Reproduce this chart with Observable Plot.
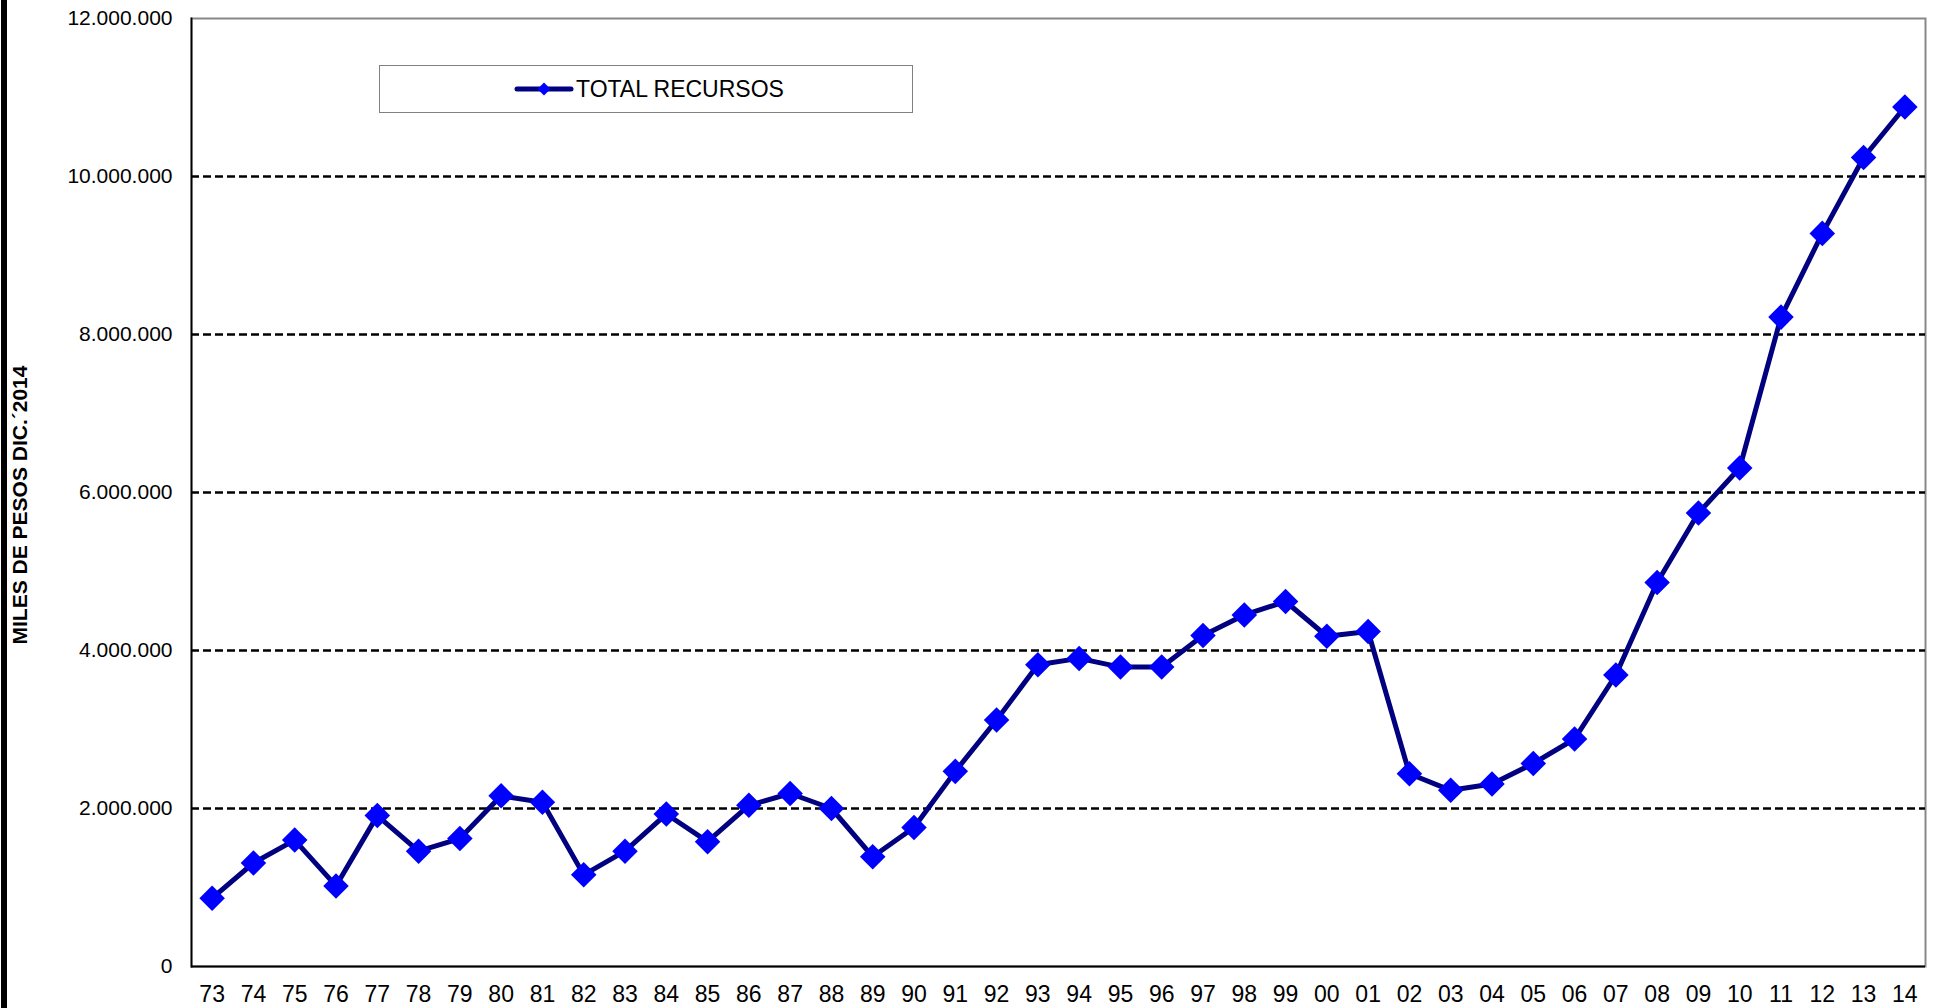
<!DOCTYPE html>
<html>
<head>
<meta charset="utf-8">
<script src="https://cdn.jsdelivr.net/npm/d3@7"></script>
<script src="https://cdn.jsdelivr.net/npm/@observablehq/plot@0.6"></script>
<style>
  html, body { margin: 0; padding: 0; background: #fff; }
  body { width: 1934px; height: 1008px; overflow: hidden; font-family: "Liberation Sans", Arial, sans-serif; }
  #wrap { position: relative; width: 1934px; height: 1008px; }
  #bar { position: absolute; left: 1px; top: 0; width: 6px; height: 1008px; background: #000; }
  #ytitle { position: absolute; left: 20px; top: 505px; transform: translate(-50%, -50%) rotate(-90deg);
            font-weight: bold; font-size: 21px; white-space: nowrap; color: #000; }
  #legend { position: absolute; left: 379px; top: 65px; width: 532px; height: 46px; border: 1px solid #808080;
            background: #fff; box-sizing: content-box; }
  #legend svg { position: absolute; left: 134px; top: 10px; }
  #legend span { position: absolute; left: 196px; top: 9px; font-size: 23px; line-height: 28px; color: #000; white-space: nowrap; }
</style>
</head>
<body>
<div id="wrap">
  <div id="chart"></div>
  <div id="bar"></div>
  <div id="ytitle"></div>
  <div id="legend"></div>
</div>
<script>
const years = ["73","74","75","76","77","78","79","80","81","82","83","84","85","86","87","88","89","90","91","92","93","94","95","96","97","98","99","00","01","02","03","04","05","06","07","08","09","10","11","12","13","14"];
const totalRecursos = [865000,1310000,1600000,1020000,1910000,1460000,1620000,2160000,2080000,1160000,1460000,1930000,1580000,2040000,2190000,2000000,1390000,1760000,2470000,3120000,3820000,3900000,3790000,3790000,4190000,4450000,4620000,4180000,4240000,2440000,2230000,2310000,2570000,2880000,3690000,4860000,5740000,6310000,8220000,9280000,10240000,10880000];
const yTicks = [0,2000000,4000000,6000000,8000000,10000000,12000000];
const gridTicks = [2000000,4000000,6000000,8000000,10000000];
const seriesName = "TOTAL RECURSOS";
const yTitle = "MILES DE PESOS DIC.´2014";

const data = years.map((y, i) => ({year: y, value: totalRecursos[i]}));
const fmt = d3.formatLocale({decimal: ",", thousands: ".", grouping: [3], currency: ["", ""]}).format(",");

const chart = Plot.plot({
  width: 1934,
  height: 1008,
  marginLeft: 191,
  marginRight: 9,
  marginTop: 18,
  marginBottom: 42,
  style: {fontFamily: "'Liberation Sans', Arial, sans-serif", fontSize: "21px", color: "#000", background: "transparent"},
  x: {type: "point", domain: years, padding: 0.5, round: false},
  y: {domain: [0, 12000000]},
  marks: [
    Plot.frame({stroke: "#888", strokeWidth: 2}),
    Plot.ruleY(gridTicks, {stroke: "#000", strokeWidth: 2.5, strokeDasharray: "8,4"}),
    Plot.ruleY([0], {stroke: "#000", strokeWidth: 2}),
    Plot.frame({anchor: "left", stroke: "#000", strokeWidth: 1.8}),
    Plot.axisY(yTicks, {tickSize: 0, tickPadding: 19, tickFormat: fmt, label: null, fontSize: 21}),
    Plot.axisY(gridTicks, {tickSize: -6, tickFormat: () => "", label: null, stroke: "#000"}),
    Plot.axisX({tickSize: 0, tickPadding: 19, label: null, fontSize: 23}),
    Plot.line(data, {x: "year", y: "value", stroke: "#000080", strokeWidth: 5, strokeLinejoin: "round"}),
    Plot.dot(data, {x: "year", y: "value", symbol: "diamond2", r: 11.5, fill: "#0000FF", stroke: "none"})
  ]
});
document.getElementById("chart").appendChild(chart);

document.getElementById("ytitle").textContent = yTitle;
const legend = document.getElementById("legend");
const ns = "http://www.w3.org/2000/svg";
const lsvg = document.createElementNS(ns, "svg");
lsvg.setAttribute("width", "60");
lsvg.setAttribute("height", "26");
lsvg.innerHTML = '<line x1="3" y1="13" x2="57" y2="13" stroke="#000080" stroke-width="5" stroke-linecap="round"/>' +
  '<path d="M30,6.5 L36.5,13 L30,19.5 L23.5,13 Z" fill="#0000FF"/>';
legend.appendChild(lsvg);
const span = document.createElement("span");
span.textContent = seriesName;
legend.appendChild(span);
</script>
</body>
</html>
